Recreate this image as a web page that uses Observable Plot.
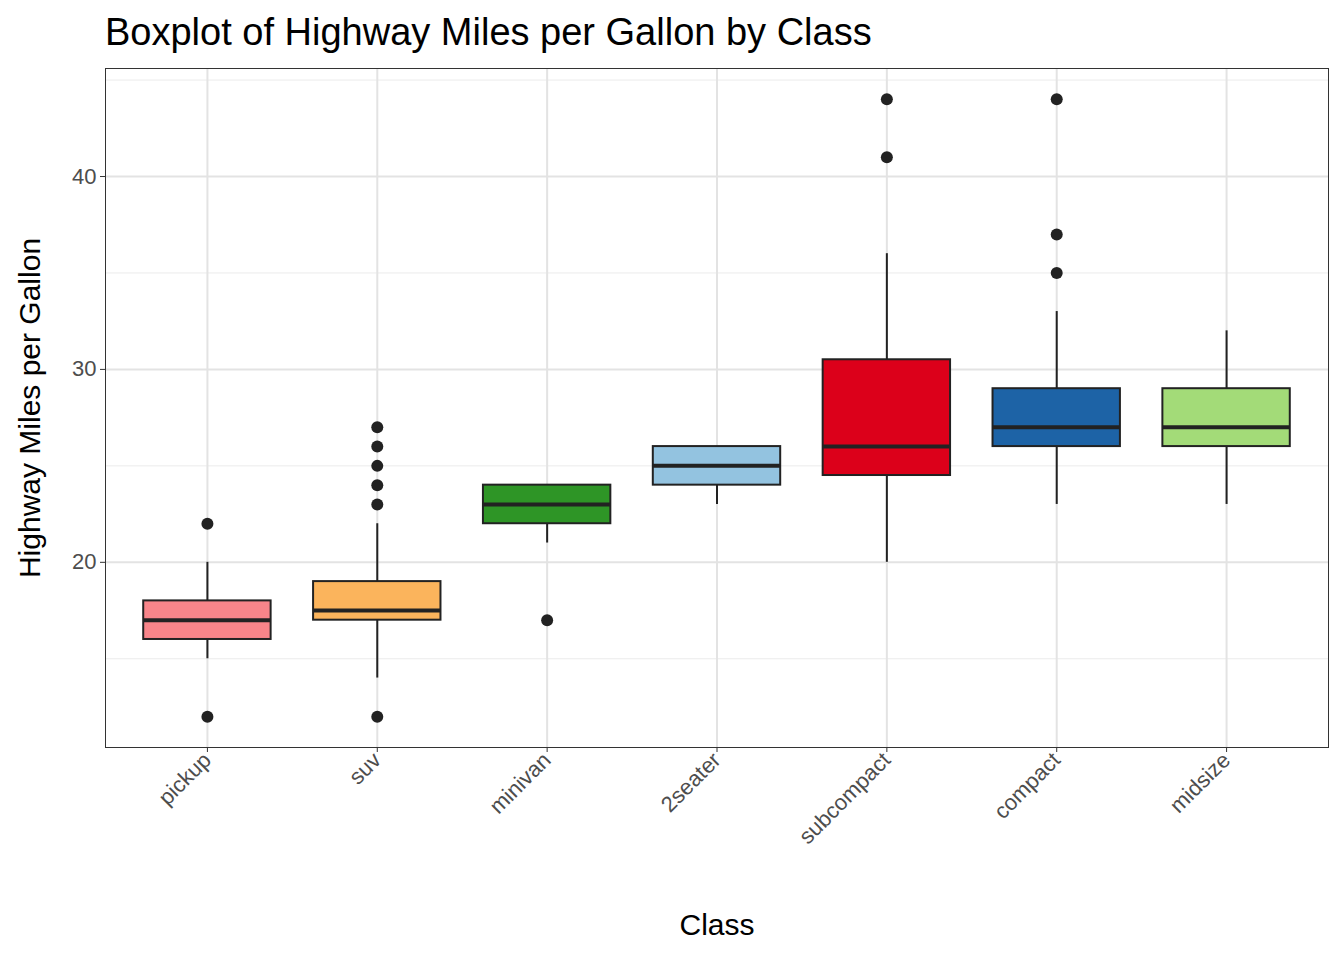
<!DOCTYPE html>
<html><head><meta charset="utf-8">
<script src="https://cdn.jsdelivr.net/npm/d3@7"></script>
<script src="https://cdn.jsdelivr.net/npm/@observablehq/plot@0.6"></script>
<style>
body{margin:0;background:#fff;font-family:"Liberation Sans",Arial,sans-serif}
#title{height:60px;line-height:64px;padding-left:105px;font-size:38px;color:#000;white-space:nowrap}
#chart g[aria-label="y-axis tick label"] text, #chart g[aria-label="x-axis tick label"] text{font-size:22px}
</style></head><body>
<div id="title">Boxplot of Highway Miles per Gallon by Class</div>
<div id="chart"></div>
<script>
const classes = ["pickup","suv","minivan","2seater","subcompact","compact","midsize"];
const lowerWhisker = [15, 14, 21, 23, 20, 23, 23];
const q1 = [16, 17, 22, 24, 24.5, 26, 26];
const median = [17, 17.5, 23, 25, 26, 27, 27];
const q3 = [18, 19, 24, 26, 30.5, 29, 29];
const upperWhisker = [20, 22, 24, 26, 36, 33, 32];
const outliers = [
  ["pickup",12],["pickup",22],
  ["suv",12],["suv",23],["suv",24],["suv",25],["suv",26],["suv",27],
  ["minivan",17],
  ["subcompact",41],["subcompact",44],
  ["compact",35],["compact",37],["compact",44]
];
const palette = ["#F8858A","#FBB45C","#2E9526","#93C3E0","#DC001A","#1D63A6","#A3DB78"];

const boxes = classes.map((c,i)=>({c, i:i+1, lo:lowerWhisker[i], q1:q1[i], med:median[i], q3:q3[i], hi:upperWhisker[i]}));
const pts = outliers.map(([c,v])=>({i:classes.indexOf(c)+1, v}));
const hw = 0.375;

const chart = Plot.plot({
  width:1344, height:900,
  marginTop:8, marginLeft:105, marginRight:16, marginBottom:213,
  style:{fontFamily:"Liberation Sans, Arial, sans-serif", background:"#fff", fontSize:"22px"},
  x:{domain:[0.4,7.6]},
  y:{domain:[10.4,45.6]},
  color:{domain:classes, range:palette},
  marks:[
    Plot.gridY([15,25,35,45],{stroke:"#ebebeb", strokeOpacity:1, strokeWidth:1}),
    Plot.gridY([20,30,40],{stroke:"#e3e3e3", strokeOpacity:1, strokeWidth:2}),
    Plot.gridX(d3.range(1,8),{stroke:"#e3e3e3", strokeOpacity:1, strokeWidth:2}),
    Plot.ruleX(boxes,{x:"i", y1:"lo", y2:"q1", stroke:"#222", strokeWidth:2}),
    Plot.ruleX(boxes,{x:"i", y1:"q3", y2:"hi", stroke:"#222", strokeWidth:2}),
    Plot.rect(boxes,{x1:d=>d.i-hw, x2:d=>d.i+hw, y1:"q1", y2:"q3", fill:"c", stroke:"#222", strokeWidth:2}),
    Plot.ruleY(boxes,{x1:d=>d.i-hw, x2:d=>d.i+hw, y:"med", stroke:"#222", strokeWidth:4}),
    Plot.dot(pts,{x:"i", y:"v", r:6, fill:"#222"}),
    Plot.frame({stroke:"#333"}),
    Plot.axisY([20,30,40],{tickSize:5, fontSize:22, color:"#4d4d4d", stroke:"#333", label:null, tickPadding:4}),
    Plot.axisX(d3.range(1,8),{tickSize:5, fontSize:22, color:"#4d4d4d", stroke:"#333", label:null,
      tickFormat:d=>classes[d-1], tickRotate:-45, tickPadding:4}),
    Plot.text(["Highway Miles per Gallon"],{frameAnchor:"left", dx:-75, rotate:-90, textAnchor:"middle", fontSize:30, fill:"#000"}),
    Plot.text(["Class"],{frameAnchor:"bottom", dy:187, fontSize:30, fill:"#000"})
  ]
});
document.getElementById("chart").append(chart);
</script></body></html>
